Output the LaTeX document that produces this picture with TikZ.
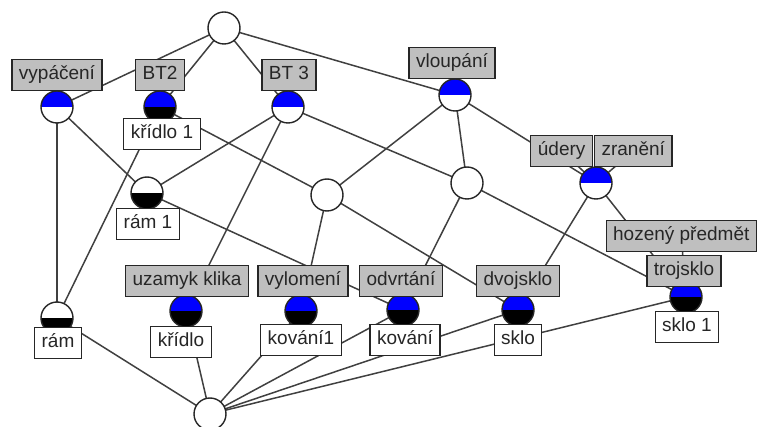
\documentclass[tikz,border=0pt]{standalone}
\usepackage{fontspec}
\setmainfont{Liberation Sans}
\usetikzlibrary{backgrounds}

\begin{document}
\begin{tikzpicture}[x=1pt, y=-1pt,
    concept/.style={circle, draw=black!85, fill=white, line width=1.4pt,
        minimum size=32pt, inner sep=0pt},
    attrc/.style={concept, path picture={
        \fill[blue] (path picture bounding box.north west) rectangle (path picture bounding box.east);}},
    objc/.style={concept, path picture={
        \fill[black] (path picture bounding box.west) rectangle (path picture bounding box.south east);}},
    bothc/.style={concept, path picture={
        \fill[blue] (path picture bounding box.north west) rectangle (path picture bounding box.east);
        \fill[black] (path picture bounding box.west) rectangle (path picture bounding box.south east);}},
    lbl/.style={draw=black!85, line width=1.2pt, inner xsep=7pt, inner ysep=0pt,
        minimum height=31.5pt, text height=14pt, text depth=4pt,
        font=\fontsize{19}{22}\selectfont, text=black!85},
    attr/.style={lbl, fill=black!25},
    obj/.style={lbl, fill=white},
    edge/.style={draw=black!75, line width=1.5pt}]
    \useasboundingbox (0,0) rectangle (758,427);

    % concepts
    \node[concept] (top) at (224,28) {};
    \node[attrc] (vyp) at (57,107) {};
    \node[bothc] (bt2) at (160,107) {};
    \node[attrc] (bt3) at (288,107) {};
    \node[attrc] (vlo) at (455,95) {};
    \node[objc]  (ram1) at (147,193) {};
    \node[concept] (m2) at (327,195) {};
    \node[concept] (m3) at (467,183) {};
    \node[attrc] (ude) at (596,183) {};
    \node[objc]  (ram) at (57,318) {};
    \node[bothc] (uza) at (186,311) {};
    \node[bothc] (vyl) at (301,311) {};
    \node[bothc] (odv) at (403,310) {};
    \node[bothc] (dvo) at (518,310) {};
    \node[bothc] (tro) at (686,297) {};
    \node[concept] (bot) at (210,414) {};

    % attribute labels
    \node[attr] (lvyp) at (57,75) {vypáčení};
    \node[attr] (lbt2) at (160,75) {BT2};
    \node[attr] (lbt3) at (289,75) {BT 3};
    \node[attr] (lvlo) at (452,63) {vloupání};
    \node[attr, anchor=east] (lude) at (593,151) {údery};
    \node[attr, anchor=west] (lzra) at (594,151) {zranění};
    \node[attr] (luza) at (187,281) {uzamyk klika};
    \node[attr] (lvyl) at (303,281) {vylomení};
    \node[attr] (lodv) at (401,281) {odvrtání};
    \node[attr] (ldvo) at (518,281) {dvojsklo};
    \node[attr, anchor=east] (lhoz) at (757,236) {hozený předmět};
    \node[attr] (ltro) at (684,271) {trojsklo};

    % object labels
    \node[obj] (lkr1) at (162,134) {křídlo 1};
    \node[obj] (lram1) at (148,224) {rám 1};
    \node[obj] (lram) at (58,343) {rám};
    \node[obj] (lkr) at (181,342) {křídlo};
    \node[obj] (lkov1) at (301,340) {kování1};
    \node[obj] (lkov) at (405,340) {kování};
    \node[obj] (lskl) at (518,340) {sklo};
    \node[obj] (lskl1) at (687,327) {sklo 1};

    \begin{pgfonlayer}{background}
        % lattice lines
        \foreach \a/\b in {top/vyp, top/bt2, top/bt3, top/vlo,
                vyp/ram, vyp/ram1, bt2/ram, bt2/m2,
                bt3/ram1, bt3/uza, bt3/m3,
                vlo/m2, vlo/m3, vlo/ude,
                ram1/odv, m2/vyl, m2/dvo, m3/odv, m3/tro,
                ude/dvo, ude/tro,
                bot/ram, bot/uza, bot/vyl, bot/odv, bot/dvo, bot/tro}
            \draw[edge] (\a.center) -- (\b.center);
        % labels hang on their concepts
        \foreach \l/\c in {lude/ude, lzra/ude, lhoz/tro}
            \draw[edge] (\l.center) -- (\c.center);
    \end{pgfonlayer}
\end{tikzpicture}
\end{document}
